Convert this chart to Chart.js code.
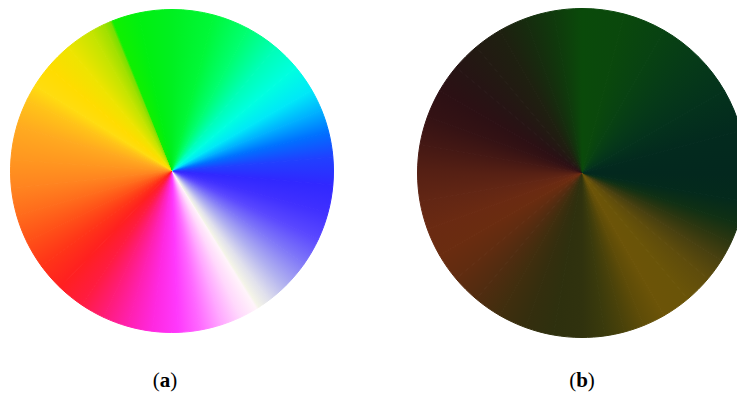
<!DOCTYPE html>
<html>
<head>
<meta charset="utf-8">
<script src="https://cdn.jsdelivr.net/npm/chart.js@4/dist/chart.umd.min.js"></script>
<style>
  html, body { margin: 0; padding: 0; background: #ffffff; width: 737px; height: 396px; overflow: hidden; position: relative; }
  canvas.wheel { position: absolute; }
  .cap { position: absolute; top: 370px; line-height: 21px; font-family: "Liberation Serif", "DejaVu Serif", serif; font-size: 21px; color: #000; transform: translateX(-50%); white-space: nowrap; }
  .cap b { font-weight: bold; }
</style>
</head>
<body>
<canvas id="wheelA" class="wheel" width="324" height="324" style="left:10px; top:9px;"></canvas>
<canvas id="wheelB" class="wheel" width="330" height="330" style="left:417px; top:8px;"></canvas>
<div class="cap" style="left:165px;">(<b>a</b>)</div>
<div class="cap" style="left:582px;">(<b>b</b>)</div>
<script>
const wheelAAngles = [0, 15, 28, 40, 50, 60, 68, 76, 85, 95, 105, 115, 125, 135, 143, 147.5, 148.5, 155, 162, 170, 178, 187, 196, 205, 214, 224, 234, 244, 254, 264, 274, 286, 296, 302, 310, 320, 330, 335, 337.5, 338.5, 348];
const wheelAColors = ['#00f020', '#00f838', '#00ff70', '#00ffb8', '#00ffe0', '#00e8f8', '#00b0ff', '#0070ff', '#2040ff', '#3028ff', '#4030ff', '#5a48ff', '#8078f8', '#b0b0f0', '#e0e0ec', '#f4f4e8', '#fff4fa', '#ffd8fc', '#ffa8ff', '#ff68ff', '#ff38fc', '#ff28e0', '#ff20b0', '#ff1c78', '#ff1c40', '#ff2020', '#ff3418', '#ff5018', '#ff6c1c', '#ff8420', '#ff9620', '#ffaa20', '#ffc418', '#ffdc10', '#ffdc00', '#eee400', '#c4e400', '#a0e000', '#78e000', '#10f000', '#00f010'];

// Hue angles and colours
const wheelBAngles = [0, 15, 30, 45, 60, 75, 90, 100, 108, 115, 122, 130, 140, 150, 158, 165, 172, 180, 190, 200, 210, 220, 230, 240, 250, 260, 270, 280, 290, 300, 310, 320, 330, 340, 350];
const wheelBColors = ['#0a4a0a', '#0a480c', '#084212', '#063a18', '#04321c', '#032a1e', '#03281e', '#042a1c', '#103014', '#2c3610', '#484010', '#5e4c0c', '#6a5408', '#6c5408', '#5e4c08', '#4a420a', '#3a3a0c', '#30320e', '#2e300e', '#342e0e', '#402e0e', '#502c10', '#602c10', '#6a2c10', '#6a2a12', '#622614', '#562014', '#441814', '#341214', '#2c1014', '#261414', '#221a12', '#1e2010', '#162c0e', '#0f3a0c'];

const panelLabels = ['(a)', '(b)'];

function spans(angles) {
  const out = [];
  for (let i = 0; i < angles.length; i++) {
    const next = i + 1 < angles.length ? angles[i + 1] : 360;
    out.push(next - angles[i]);
  }
  return out;
}

function makeWheel(id, angles, colors) {
  const values = spans(angles);
  let cache = null;
  const gradientFor = (context) => {
    const chart = context.chart;
    const area = chart.chartArea;
    if (!area) return colors[0];
    const cx = (area.left + area.right) / 2;
    const cy = (area.top + area.bottom) / 2;
    const key = cx + ',' + cy;
    if (cache && cache.key === key) return cache.g;
    const total = values.reduce((a, b) => a + b, 0);
    const g = chart.ctx.createConicGradient(-Math.PI / 2, cx, cy);
    let cum = 0;
    for (let i = 0; i < values.length; i++) {
      g.addColorStop(cum / total, colors[i]);
      cum += values[i];
    }
    g.addColorStop(1, colors[0]);
    cache = { key, g };
    return g;
  };
  return new Chart(document.getElementById(id), {
    type: 'pie',
    data: {
      labels: angles.map(a => a + '°'),
      datasets: [{
        data: values,
        backgroundColor: gradientFor,
        borderColor: gradientFor,
        borderWidth: 1,
        hoverOffset: 0,
        offset: 0,
        spacing: 0
      }]
    },
    options: {
      responsive: false,
      animation: false,
      events: [],
      layout: { padding: 0 },
      plugins: { legend: { display: false }, tooltip: { enabled: false }, title: { display: false } }
    }
  });
}

makeWheel('wheelA', wheelAAngles, wheelAColors);
makeWheel('wheelB', wheelBAngles, wheelBColors);
</script>
</body>
</html>
